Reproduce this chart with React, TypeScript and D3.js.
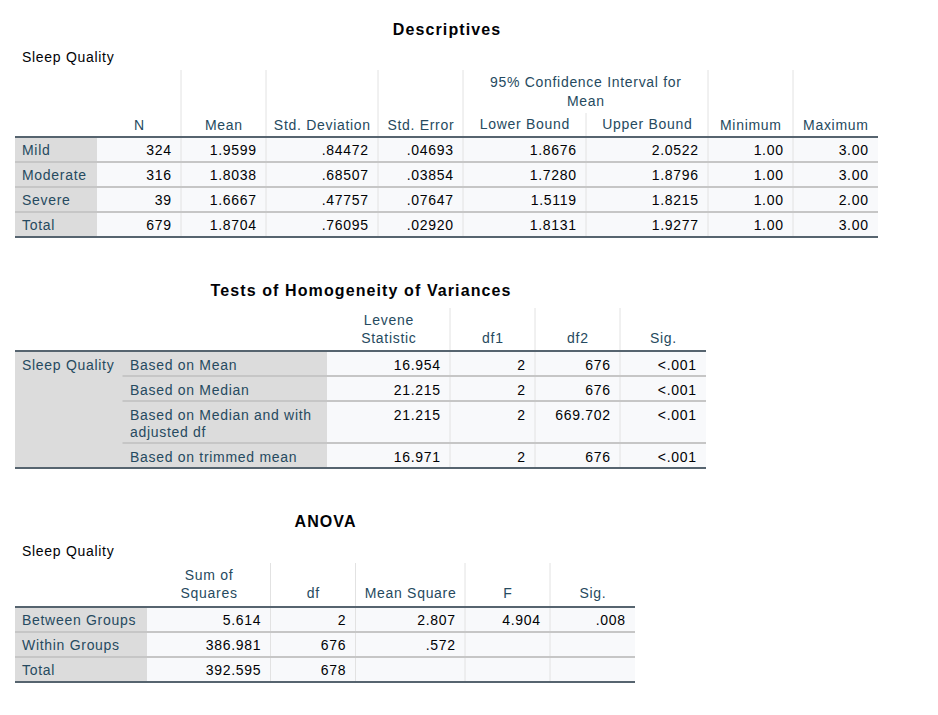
import { useEffect, useRef } from 'react';
import * as d3 from 'd3';

// Descriptives
const descGroups = ['Mild', 'Moderate', 'Severe', 'Total'];
const descN = ['324', '316', '39', '679'];
const descMean = ['1.9599', '1.8038', '1.6667', '1.8704'];
const descSD = ['.84472', '.68507', '.47757', '.76095'];
const descSE = ['.04693', '.03854', '.07647', '.02920'];
const descLower = ['1.8676', '1.7280', '1.5119', '1.8131'];
const descUpper = ['2.0522', '1.8796', '1.8215', '1.9277'];
const descMin = ['1.00', '1.00', '1.00', '1.00'];
const descMax = ['3.00', '3.00', '2.00', '3.00'];

// Tests of Homogeneity of Variances
const levRows = [['Based on Mean'], ['Based on Median'], ['Based on Median and with', 'adjusted df'], ['Based on trimmed mean']];
const levStat = ['16.954', '21.215', '21.215', '16.971'];
const levDf1 = ['2', '2', '2', '2'];
const levDf2 = ['676', '676', '669.702', '676'];
const levSig = ['<.001', '<.001', '<.001', '<.001'];

// ANOVA
const anovaRows = ['Between Groups', 'Within Groups', 'Total'];
const anovaSS = ['5.614', '386.981', '392.595'];
const anovaDf = ['2', '676', '678'];
const anovaMS = ['2.807', '.572', ''];
const anovaF = ['4.904', '', ''];
const anovaSig = ['.008', '', ''];

const FONT = '"Liberation Sans", Arial, sans-serif';
const HEAD = '#264a60';
const INK = '#010205';
const STUB_BG = '#dcdcdc';
const CELL_BG = '#f8f9fb';
const RULE = '#56646f';
const SEP = '#c6c6c6';
const VLINE = '#e2e2e2';
const LS = 0.7;
const ROW_H = 25;
const LINE_H = 17.5;

type Sel = d3.Selection<SVGGElement, unknown, null, undefined>;

function txt(g: Sel, x: number, y: number, s: string, o: any = {}) {
  const ls = o.ls ?? LS;
  const anchor = o.anchor || 'start';
  const dx = anchor === 'middle' ? ls / 2 : anchor === 'end' ? ls : 0;
  g.append('text')
    .attr('x', x + dx)
    .attr('y', y)
    .attr('text-anchor', anchor)
    .attr('fill', o.fill || INK)
    .style('font-family', FONT)
    .style('font-size', (o.size || 14) + 'px')
    .style('font-weight', o.bold ? 700 : 400)
    .style('letter-spacing', ls + 'px')
    .text(s);
}

function hline(g: Sel, x1: number, x2: number, y: number, color: string, w = 1) {
  g.append('line').attr('x1', x1).attr('x2', x2).attr('y1', y).attr('y2', y)
    .attr('stroke', color).attr('stroke-width', w);
}

function vline(g: Sel, x: number, y1: number, y2: number, color = VLINE) {
  g.append('line').attr('x1', x).attr('x2', x).attr('y1', y1).attr('y2', y2)
    .attr('stroke', color).attr('stroke-width', 1);
}

function rect(g: Sel, x0: number, x1: number, y0: number, y1: number, fill: string) {
  g.append('rect').attr('x', x0).attr('y', y0).attr('width', x1 - x0).attr('height', y1 - y0).attr('fill', fill);
}

// draws data columns: values right aligned inside their cells
function drawColumns(g: Sel, cols: string[][], edges: number[], firstCol: number, rowTop: (i: number) => number) {
  cols.forEach((vals, c) => {
    const right = edges[firstCol + c + 1];
    vals.forEach((v, i) => {
      if (v) txt(g, right - 10, rowTop(i) + LINE_H, v, { anchor: 'end' });
    });
  });
}

export default function App() {
  const ref = useRef<SVGSVGElement>(null);

  useEffect(() => {
    if (!ref.current) return;
    const svg = d3.select(ref.current);
    svg.selectAll('*').remove();
    const root = svg.append('g') as unknown as Sel;

    // ---------- Descriptives ----------
    {
      const g = root.append('g') as unknown as Sel;
      const edges = [15, 97, 181, 266, 378, 463, 586, 708, 793, 878];
      const headTop = 70, headBottom = 137;
      const y = d3.scaleBand<number>().domain(d3.range(descGroups.length)).range([headBottom, headBottom + ROW_H * descGroups.length]);
      const bottom = y.range()[1];
      const cx = (a: number, b: number) => (edges[a] + edges[b]) / 2;

      txt(g, (edges[0] + edges[edges.length - 1]) / 2, 35, 'Descriptives', { anchor: 'middle', bold: true, size: 16, ls: 1.1 });
      txt(g, 22, 62, 'Sleep Quality');

      rect(g, edges[0], edges[1], headBottom, bottom, STUB_BG);
      rect(g, edges[1], edges[edges.length - 1], headBottom, bottom, CELL_BG);

      // header
      [2, 3, 4, 5, 7, 8].forEach(i => vline(g, edges[i], headTop, headBottom));
      vline(g, edges[6], 113, headBottom);
      const single = [['N', 1], ['Mean', 2], ['Std. Deviation', 3], ['Std. Error', 4], ['Minimum', 7], ['Maximum', 8]] as [string, number][];
      single.forEach(([s, c]) => txt(g, cx(c, c + 1), 130, s, { anchor: 'middle', fill: HEAD }));
      txt(g, cx(5, 7), 87, '95% Confidence Interval for', { anchor: 'middle', fill: HEAD });
      txt(g, cx(5, 7), 106, 'Mean', { anchor: 'middle', fill: HEAD });
      txt(g, cx(5, 6), 129, 'Lower Bound', { anchor: 'middle', fill: HEAD });
      txt(g, cx(6, 7), 129, 'Upper Bound', { anchor: 'middle', fill: HEAD });

      // body
      d3.range(2, 9).forEach(i => vline(g, edges[i], headBottom, bottom));
      descGroups.forEach((s, i) => {
        if (i > 0) hline(g, edges[0], edges[edges.length - 1], y(i)!, SEP, 2);
        txt(g, 22, y(i)! + LINE_H, s, { fill: HEAD });
      });
      drawColumns(g, [descN, descMean, descSD, descSE, descLower, descUpper, descMin, descMax], edges, 1, i => y(i)!);
      hline(g, edges[0], edges[edges.length - 1], headBottom, RULE, 2);
      hline(g, edges[0], edges[edges.length - 1], bottom, RULE, 2);
    }

    // ---------- Tests of Homogeneity of Variances ----------
    {
      const g = root.append('g') as unknown as Sel;
      const edges = [15, 122.5, 327, 450, 535, 620, 706];
      const headTop = 308, headBottom = 351;
      const heights = levRows.map(r => ROW_H + (r.length - 1) * 17);
      const tops = [headBottom, ...Array.from(d3.cumsum(heights), h => headBottom + h)];
      const bottom = tops[tops.length - 1];
      const cx = (a: number, b: number) => (edges[a] + edges[b]) / 2;

      txt(g, (edges[0] + edges[edges.length - 1]) / 2, 296, 'Tests of Homogeneity of Variances', { anchor: 'middle', bold: true, size: 16, ls: 1.1 });

      rect(g, edges[0], edges[2], headBottom, bottom, STUB_BG);
      rect(g, edges[2], edges[edges.length - 1], headBottom, bottom, CELL_BG);

      [3, 4, 5].forEach(i => vline(g, edges[i], headTop, headBottom));
      txt(g, cx(2, 3), 325, 'Levene', { anchor: 'middle', fill: HEAD });
      txt(g, cx(2, 3), 343, 'Statistic', { anchor: 'middle', fill: HEAD });
      txt(g, cx(3, 4), 343, 'df1', { anchor: 'middle', fill: HEAD });
      txt(g, cx(4, 5), 343, 'df2', { anchor: 'middle', fill: HEAD });
      txt(g, cx(5, 6), 343, 'Sig.', { anchor: 'middle', fill: HEAD });

      [3, 4, 5].forEach(i => vline(g, edges[i], headBottom, bottom));
      txt(g, 22, headBottom + LINE_H + 1, 'Sleep Quality', { fill: HEAD });
      levRows.forEach((lines, i) => {
        if (i > 0) hline(g, edges[1], edges[edges.length - 1], tops[i], SEP, 2);
        lines.forEach((s, k) => txt(g, 130, tops[i] + LINE_H + 1 + k * LINE_H, s, { fill: HEAD }));
      });
      drawColumns(g, [levStat, levDf1, levDf2, levSig], edges, 2, i => tops[i] + 1);
      hline(g, edges[0], edges[edges.length - 1], headBottom, RULE, 2);
      hline(g, edges[0], edges[edges.length - 1], bottom, RULE, 2);
    }

    // ---------- ANOVA ----------
    {
      const g = root.append('g') as unknown as Sel;
      const edges = [15, 147, 270.5, 355.5, 465, 550, 635];
      const headTop = 563, headBottom = 607;
      const y = d3.scaleBand<number>().domain(d3.range(anovaRows.length)).range([headBottom, headBottom + ROW_H * anovaRows.length]);
      const bottom = y.range()[1];
      const cx = (a: number, b: number) => (edges[a] + edges[b]) / 2;

      txt(g, (edges[0] + edges[edges.length - 1]) / 2, 527, 'ANOVA', { anchor: 'middle', bold: true, size: 16, ls: 1.1 });
      txt(g, 22, 556, 'Sleep Quality');

      rect(g, edges[0], edges[1], headBottom, bottom, STUB_BG);
      rect(g, edges[1], edges[edges.length - 1], headBottom, bottom, CELL_BG);

      [2, 3, 4, 5].forEach(i => vline(g, edges[i], headTop, headBottom));
      txt(g, cx(1, 2), 580, 'Sum of', { anchor: 'middle', fill: HEAD });
      txt(g, cx(1, 2), 598, 'Squares', { anchor: 'middle', fill: HEAD });
      txt(g, cx(2, 3), 598, 'df', { anchor: 'middle', fill: HEAD });
      txt(g, cx(3, 4), 598, 'Mean Square', { anchor: 'middle', fill: HEAD });
      txt(g, cx(4, 5), 598, 'F', { anchor: 'middle', fill: HEAD });
      txt(g, cx(5, 6), 598, 'Sig.', { anchor: 'middle', fill: HEAD });

      [2, 3, 4, 5].forEach(i => vline(g, edges[i], headBottom, bottom));
      anovaRows.forEach((s, i) => {
        if (i > 0) hline(g, edges[0], edges[edges.length - 1], y(i)!, SEP, 2);
        txt(g, 22, y(i)! + LINE_H, s, { fill: HEAD });
      });
      drawColumns(g, [anovaSS, anovaDf, anovaMS, anovaF, anovaSig], edges, 1, i => y(i)!);
      hline(g, edges[0], edges[edges.length - 1], headBottom, RULE, 2);
      hline(g, edges[0], edges[edges.length - 1], bottom, RULE, 2);
    }
  }, []);

  return (
    <svg
      ref={ref}
      width={938}
      height={715}
      style={{ position: 'absolute', left: 0, top: 0, background: '#fff' }}
    />
  );
}
